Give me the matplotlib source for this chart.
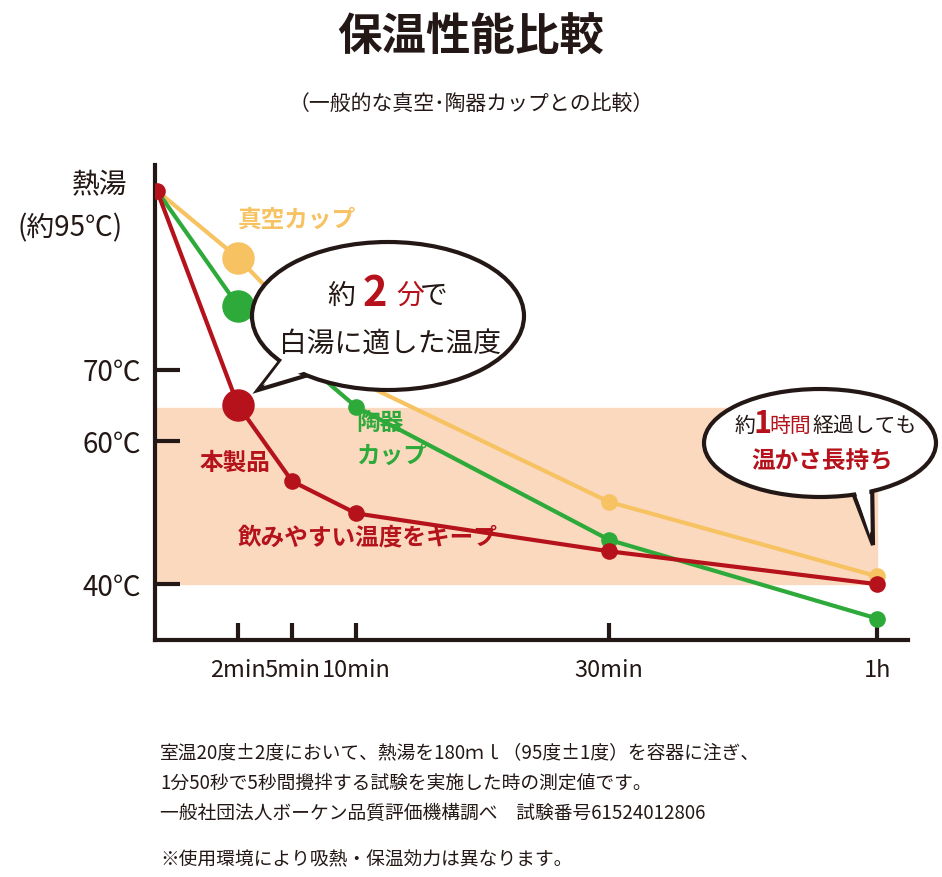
import numpy as np
import matplotlib
matplotlib.use("Agg")
import matplotlib.pyplot as plt
from matplotlib.patches import Ellipse, Polygon

plt.rcParams['font.family'] = ['Noto Sans CJK JP', 'DejaVu Sans']

time_labels = ['2min', '5min', '10min', '30min', '1h']
tick_minutes = [2, 5, 10, 30, 60]
red_t = [0, 2, 5, 10, 30, 60]
red_v = [95, 65.0, 54.4, 49.9, 44.6, 40.0]
green_t = [0, 2, 10, 30, 60]
green_v = [95, 78.9, 64.8, 46.2, 35.2]
yellow_t = [0, 2, 10, 30, 60]
yellow_v = [95, 85.6, 68.5, 51.5, 41.1]
y_ticks = [40, 60, 70]
band = (40, 64.6)

RED, GREEN, YEL, BAND = '#b5121b', '#2daa3a', '#f7c262', '#fbd9bf'

knots_m = [-1, 0, 2, 5, 10, 30, 60, 80]
knots_p = [-81, 0, 81, 135, 199, 452, 720, 1000]
fwd = lambda m: np.interp(m, knots_m, knots_p)
inv = lambda p: np.interp(p, knots_p, knots_m)

W, H = 942, 877
fig = plt.figure(figsize=(W/100, H/100), dpi=100)
fx = lambda x: x / W
fy = lambda y: 1 - y / H
ax = fig.add_axes([fx(155), fy(640), fx(908) - fx(155), fy(165) - fy(640)])
ax.set_xscale('function', functions=(fwd, inv))
ax.set_xlim(-0.025, 62.2)
ax.set_ylim(32.2, 98.6)
for s in ['top', 'right']:
    ax.spines[s].set_visible(False)
for s in ['left', 'bottom']:
    ax.spines[s].set_linewidth(3)
    ax.spines[s].set_color('#231815')
ax.axhspan(band[0], band[1], xmin=0, xmax=fwd(60)/(751+2)+0.003, color=BAND, zorder=0)
ax.set_xticks(tick_minutes)
ax.set_xticklabels(time_labels, fontsize=17, color='#231815')
ax.tick_params(axis='x', length=12, width=3, direction='in', pad=14, color='#231815')
ax.set_yticks(y_ticks)
ax.set_yticklabels([f'{v}℃' for v in y_ticks], fontsize=20, color='#231815')
ax.tick_params(axis='y', length=18, width=3, direction='in', pad=10, color='#231815')

ax.plot(yellow_t, yellow_v, color=YEL, lw=3, zorder=2)
ax.plot(green_t, green_v, color=GREEN, lw=3, zorder=3)
ax.plot(red_t, red_v, color=RED, lw=3, zorder=4)
ax.scatter([yellow_t[3], yellow_t[4]], [yellow_v[3], yellow_v[4]], s=120, color=YEL, zorder=2)
ax.scatter([yellow_t[1]], [yellow_v[1]], s=500, color=YEL, zorder=2)
ax.scatter(green_t[2:], green_v[2:], s=120, color=GREEN, zorder=3)
ax.scatter([green_t[1]], [green_v[1]], s=500, color=GREEN, zorder=3)
ax.scatter([red_t[0]] + red_t[2:], [red_v[0]] + red_v[2:], s=120, color=RED, zorder=4)
ax.scatter([red_t[1]], [red_v[1]], s=500, color=RED, zorder=4)

ax.text(2.0, 45.5, '飲みやすい温度をキープ', color=RED, fontsize=17, fontweight='bold')
ax.text(1.05, 56.0, '本製品', color=RED, fontsize=17, fontweight='bold')
ax.text(10.0, 61.5, '陶器', color=GREEN, fontsize=17, fontweight='bold')
ax.text(10.0, 57.0, 'カップ', color=GREEN, fontsize=17, fontweight='bold')
ax.text(2.0, 90.0, '真空カップ', color=YEL, fontsize=17, fontweight='bold')

fig.text(fx(471), fy(38), '保温性能比較', ha='center', va='center', fontsize=32, fontweight='bold', color='#231815')
fig.text(fx(471), fy(104), '（一般的な真空･陶器カップとの比較）', ha='center', va='center', fontsize=15, color='#231815')
fig.text(fx(100), fy(185), '熱湯', ha='center', va='center', fontsize=20, color='#231815')
fig.text(fx(70), fy(228), '(約95℃)', ha='center', va='center', fontsize=20, color='#231815')

# Bubble 1
fig.patches.append(Polygon([[fx(285), fy(355)], [fx(258), fy(390)], [fx(325), fy(370)]],
                           closed=True, transform=fig.transFigure, fc='white', ec='#231815', lw=3, zorder=5))
fig.patches.append(Ellipse((fx(388), fy(316)), fx(272), 148/H, transform=fig.transFigure,
                           fc='white', ec='#231815', lw=3, zorder=6))
fig.patches.append(Polygon([[fx(288), fy(352)], [fx(263), fy(385)], [fx(322), fy(366)]],
                           closed=True, transform=fig.transFigure, fc='white', ec='none', zorder=7))
fig.text(fx(355), fy(296), '約', ha='right', va='center', fontsize=20, color='#231815', zorder=8)
fig.text(fx(375), fy(294), '2', ha='center', va='center', fontsize=30, fontweight='bold', color=RED, zorder=8)
fig.text(fx(396), fy(296), '分', ha='left', va='center', fontsize=20, color=RED, zorder=8)
fig.text(fx(420), fy(296), 'で', ha='left', va='center', fontsize=20, color='#231815', zorder=8)
fig.text(fx(390), fy(344), '白湯に適した温度', ha='center', va='center', fontsize=20, color='#231815', zorder=8)

# Bubble 2
fig.patches.append(Polygon([[fx(848), fy(480)], [fx(873), fy(545)], [fx(872), fy(475)]],
                           closed=True, transform=fig.transFigure, fc='white', ec='#231815', lw=3, zorder=5))
fig.patches.append(Ellipse((fx(820), fy(443)), fx(232), 108/H, transform=fig.transFigure,
                           fc='white', ec='#231815', lw=3, zorder=6))
fig.patches.append(Polygon([[fx(851), fy(478)], [fx(870), fy(535)], [fx(869), fy(470)]],
                           closed=True, transform=fig.transFigure, fc='white', ec='none', zorder=7))
fig.text(fx(745), fy(426), '約', ha='center', va='center', fontsize=15, color='#231815', zorder=8)
fig.text(fx(762), fy(424), '1', ha='center', va='center', fontsize=22, fontweight='bold', color=RED, zorder=8)
fig.text(fx(790), fy(426), '時間', ha='center', va='center', fontsize=15, color=RED, zorder=8)
fig.text(fx(865), fy(426), '経過しても', ha='center', va='center', fontsize=15, color='#231815', zorder=8)
fig.text(fx(822), fy(461), '温かさ長持ち', ha='center', va='center', fontsize=17, fontweight='bold', color=RED, zorder=8)

notes = ['室温20度±2度において、熱湯を180ｍｌ（95度±1度）を容器に注ぎ、',
         '1分50秒で5秒間攪拌する試験を実施した時の測定値です。',
         '一般社団法人ボーケン品質評価機構調べ　試験番号61524012806']
for i, n in enumerate(notes):
    fig.text(fx(160), fy(753 + i * 30), n, ha='left', va='center', fontsize=13.5, color='#231815')
fig.text(fx(160), fy(860), '※使用環境により吸熱・保温効力は異なります。', ha='left', va='center', fontsize=13.5, color='#231815')

fig.savefig('out.png', dpi=100)
